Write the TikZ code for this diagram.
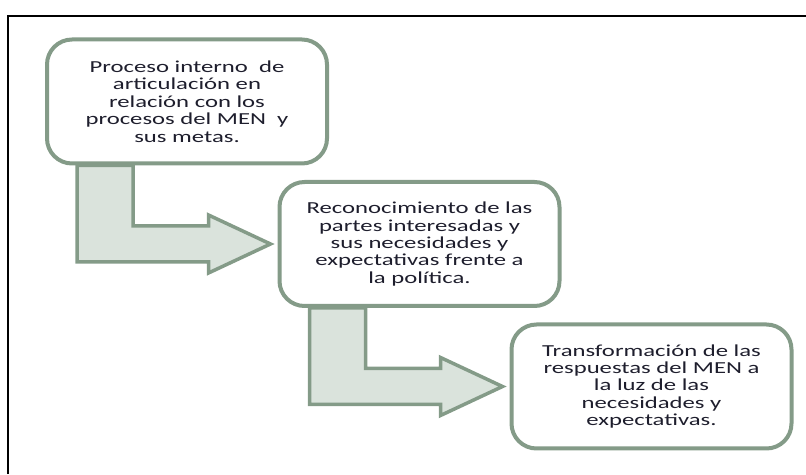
\documentclass[tikz,border=0pt]{standalone}
\usepackage{fontspec}
\setmainfont{Carlito}[FakeStretch=1.47]
\usepackage{tikz}
\usetikzlibrary{calc,positioning}
\definecolor{framegreen}{RGB}{132,155,136}
\definecolor{lightgreen}{RGB}{218,227,220}
\definecolor{textdark}{RGB}{30,30,45}

\begin{document}
\begin{tikzpicture}[x=1pt, y=1pt,
  etapa/.style={draw=framegreen, fill=white, line width=4pt, rounded corners=25pt,
    minimum width=280pt, minimum height=124pt, align=center, text=textdark,
    font=\fontsize{16.8}{17.4}\selectfont},
  flecha/.style={draw=framegreen, fill=lightgreen, line width=3.5pt, line join=miter},
]
  \useasboundingbox (0,0) rectangle (806,474);
  \draw[line width=2pt] (8,0) -- (8,458) -- (806,458);

  \node[etapa] (proceso) at (187,372.5) {Proceso interno\ \ de\\articulación en\\relación con los\\procesos del MEN\ \ y\\sus metas.};
  \node[etapa] (reconoc) at (419.5,230) {Reconocimiento de las\\partes interesadas y\\sus necesidades y\\expectativas frente a\\la política.};
  \node[etapa] (transf) at (651.5,87.5) {Transformación de las\\respuestas del MEN a\\la luz de las\\necesidades y\\expectativas.};

  % bent arrows between the stages
  \coordinate (s1) at ($(proceso.south west)+(32,0)$);
  \coordinate (t1) at ($(reconoc.west)+(-7,0)$);
  \draw[flecha] (s1) -- ++(56,0) |- ($(t1)+(-62,18)$) -- ++(0,11) -- (t1)
    -- ($(t1)+(-62,-29)$) -- ++(0,11) -| (s1) -- cycle;

  \coordinate (s2) at ($(reconoc.south west)+(32,0)$);
  \coordinate (t2) at ($(transf.west)+(-7,0)$);
  \draw[flecha] (s2) -- ++(56,0) |- ($(t2)+(-62,18)$) -- ++(0,11) -- (t2)
    -- ($(t2)+(-62,-29)$) -- ++(0,11) -| (s2) -- cycle;
\end{tikzpicture}
\end{document}
